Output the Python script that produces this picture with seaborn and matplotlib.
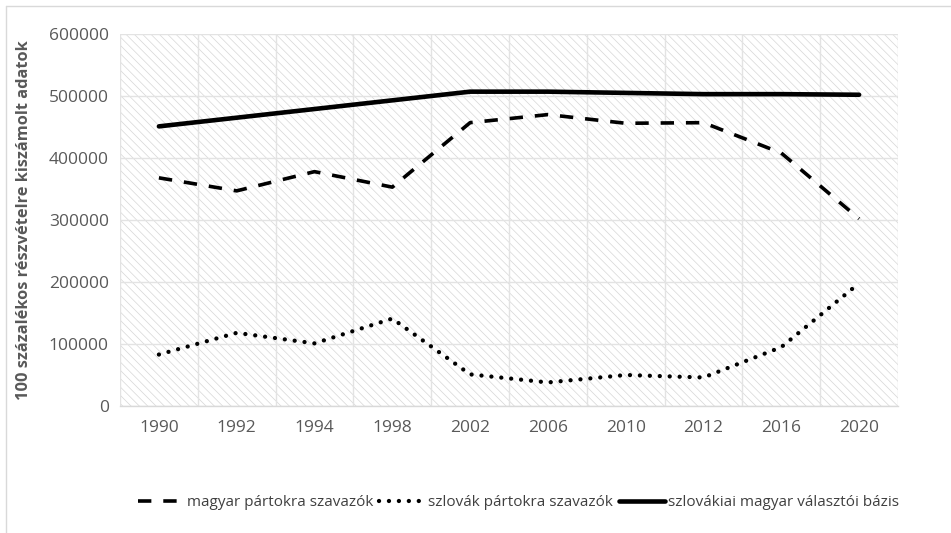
import numpy as np
import pandas as pd
import matplotlib
matplotlib.use('Agg')
import matplotlib.pyplot as plt
import seaborn as sns
from matplotlib.lines import Line2D
from matplotlib.patches import Rectangle

years = ['1990', '1992', '1994', '1998', '2002', '2006', '2010', '2012', '2016', '2020']
magyar_partok = [368000, 347000, 378000, 353000, 457000, 470000, 456000, 457000, 408000, 302000]
szlovak_partok = [83000, 118000, 101000, 141000, 51000, 38000, 50000, 46000, 95000, 198000]
valasztoi_bazis = [451000, 465000, 479000, 493000, 507000, 507000, 505000, 503000, 503000, 502000]
labels = ['magyar pártokra szavazók', 'szlovák pártokra szavazók', 'szlovákiai magyar választói bázis']

sns.set_style('white')
plt.rcParams['font.family'] = ['Open Sans', 'DejaVu Sans']
plt.rcParams['hatch.linewidth'] = 0.5
plt.rcParams['hatch.color'] = '#d6d6d6'

df = pd.DataFrame({'pos': np.arange(len(years)),
                   labels[0]: magyar_partok,
                   labels[1]: szlovak_partok,
                   labels[2]: valasztoi_bazis})

fig = plt.figure(figsize=(9.51, 5.33), dpi=100)
ax = fig.add_axes([120 / 951, 1 - 406 / 533, 778 / 951, 372 / 533])

# hatched plot area
ax.add_patch(Rectangle((0, 0), 1, 1, transform=ax.transAxes, facecolor='white',
                       edgecolor='#d6d6d6', hatch='\\\\\\\\', lw=0, zorder=0))

styles = {labels[0]: dict(linestyle=(0, (3.7, 3.3)), lw=2.6, dash_capstyle='butt'),
          labels[1]: dict(linestyle=(0, (0.01, 2.3)), lw=3.1, dash_capstyle='round'),
          labels[2]: dict(linestyle='-', lw=3.3, solid_capstyle='round')}

for name in labels:
    sns.lineplot(data=df, x='pos', y=name, ax=ax, color='black', zorder=3,
                 legend=False, **styles[name])

ax.set_xlim(-0.5, len(years) - 0.5)
ax.set_ylim(0, 600000)
ax.set_yticks(np.arange(0, 600001, 100000))
ax.set_yticklabels([str(v) for v in range(0, 600001, 100000)])
ax.set_xticks(np.arange(len(years)))
ax.set_xticklabels(years)
ax.set_xticks(np.arange(-0.5, len(years)), minor=True)
ax.tick_params(axis='x', which='major', length=0, pad=10, labelsize=12.5, colors='#595959')
ax.tick_params(axis='x', which='minor', length=6, width=1, color='#d9d9d9')
ax.tick_params(axis='y', length=0, pad=8, labelsize=12.5, colors='#595959')

ax.grid(False)
ax.yaxis.grid(True, color='#e3e3e3', lw=1, zorder=1)
ax.xaxis.grid(True, which='minor', color='#e3e3e3', lw=1, zorder=1)
ax.set_axisbelow(True)
for s in ['top', 'right', 'left']:
    ax.spines[s].set_visible(False)
ax.spines['bottom'].set_color('#d9d9d9')
ax.spines['bottom'].set_linewidth(1)

ax.set_xlabel('')
ax.set_ylabel('100 százalékos részvételre kiszámolt adatok', fontsize=11.8,
              fontweight='bold', color='#595959', labelpad=12)

handles = [Line2D([0], [0], color='black', **styles[n]) for n in labels]
fig.legend(handles, labels, loc='center', bbox_to_anchor=(0.545, 0.057), ncol=3,
           frameon=False, fontsize=11.0, handlelength=3.0, handletextpad=0.2,
           columnspacing=0.4, labelcolor='#404040')

# outer chart border (top and left only)
fig.add_artist(Line2D([6 / 951, 1], [1 - 6 / 533, 1 - 6 / 533], color='#d9d9d9', lw=1))
fig.add_artist(Line2D([6 / 951, 6 / 951], [0, 1 - 6 / 533], color='#d9d9d9', lw=1))

fig.savefig('out.png', dpi=100)
